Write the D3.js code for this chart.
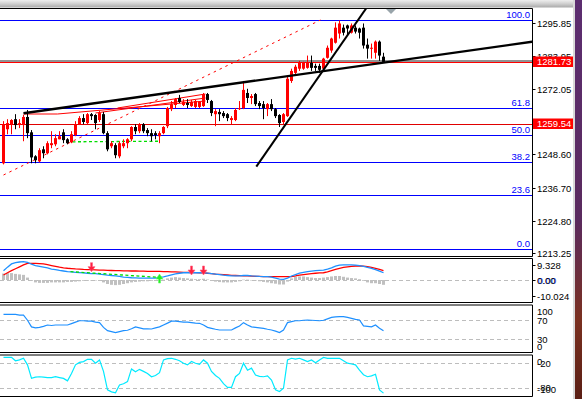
<!DOCTYPE html>
<html><head><meta charset="utf-8">
<script src="https://cdn.jsdelivr.net/npm/d3@7"></script>
<style>body{margin:0;background:#fff;overflow:hidden}svg{display:block}</style>
</head><body><svg id="c" width="582" height="399"></svg>
<script>
// ---------- data ----------
const opens=[1245.4,1257.6,1259.4,1261.2,1259.1,1259.1,1262.0,1256.5,1247.9,1246.1,
1250.4,1249.0,1251.9,1252.2,1254.0,1256.5,1254.0,1252.9,1255.5,1259.4,
1261.6,1259.8,1263.0,1262.7,1260.9,1263.0,1256.2,1251.5,1251.9,1247.9,
1251.5,1252.6,1254.0,1258.4,1256.9,1259.4,1257.3,1256.2,1256.2,1255.1,
1256.2,1258.7,1264.8,1266.3,1268.8,1266.3,1267.0,1265.9,1265.6,1265.6,
1265.9,1270.2,1267.7,1263.0,1263.8,1263.4,1263.0,1260.9,1260.9,1264.8,
1265.2,1270.6,1268.8,1270.2,1267.0,1266.6,1264.8,1266.6,1264.8,1262.7,
1260.2,1262.3,1274.9,1277.8,1279.3,1279.3,1279.6,1281.4,1280.3,1280.3,
1279.3,1283.2,1285.8,1288.6,1291.9,1294.0,1294.8,1292.2,1294.0,1293.7,
1294.0,1287.9,1286.5,1285.0,1289.0,1283.6];
const highs=[1260.5,1261.2,1261.2,1263.0,1261.2,1262.7,1264.5,1257.3,1248.3,1250.8,
1251.5,1253.3,1256.9,1255.8,1256.9,1257.6,1254.4,1256.9,1260.5,1262.3,
1263.0,1263.4,1263.4,1263.0,1264.1,1263.8,1256.9,1253.3,1252.6,1253.3,
1254.0,1254.4,1258.7,1259.4,1259.8,1259.8,1258.0,1257.6,1256.9,1256.9,
1258.7,1265.6,1267.7,1268.8,1269.9,1268.4,1268.4,1268.1,1268.1,1267.7,
1270.6,1270.6,1268.1,1264.8,1264.8,1264.1,1263.4,1262.3,1265.2,1267.7,
1274.9,1272.1,1270.2,1270.6,1267.7,1267.7,1267.0,1268.4,1265.2,1263.0,
1263.4,1276.4,1279.3,1280.7,1282.1,1281.8,1284.0,1284.0,1281.1,1281.1,
1283.2,1287.6,1290.4,1295.9,1296.6,1295.1,1295.1,1295.5,1294.8,1294.0,
1295.5,1290.1,1288.3,1289.4,1289.4,1285.0];
const lows=[1245.0,1255.8,1255.8,1257.6,1258.0,1253.3,1254.4,1245.4,1245.4,1245.7,
1247.2,1248.6,1250.8,1251.5,1254.0,1252.6,1252.2,1252.6,1255.1,1259.1,
1259.4,1259.4,1260.9,1257.6,1260.2,1255.8,1249.7,1250.8,1247.2,1247.2,
1250.8,1250.8,1253.3,1255.8,1256.2,1256.2,1255.1,1253.3,1254.0,1252.6,
1255.8,1258.0,1264.1,1265.2,1267.0,1265.9,1265.2,1265.6,1265.2,1265.2,
1265.6,1267.0,1262.3,1258.7,1260.5,1261.6,1260.5,1259.4,1260.5,1264.5,
1264.8,1267.0,1266.6,1265.9,1264.8,1261.2,1262.3,1264.1,1261.6,1258.4,
1259.4,1262.0,1274.2,1277.1,1278.5,1278.9,1279.3,1278.5,1278.5,1277.8,
1278.5,1282.9,1285.0,1288.3,1290.1,1291.2,1291.2,1291.9,1291.9,1290.1,
1286.5,1282.9,1282.9,1282.9,1282.1,1281.4];
const closes=[1259.4,1259.8,1260.9,1259.1,1259.8,1262.0,1256.2,1247.5,1246.5,1250.1,
1249.0,1252.6,1252.6,1254.4,1255.1,1253.7,1252.6,1255.8,1259.4,1261.6,
1260.2,1263.0,1262.3,1259.8,1263.4,1256.2,1250.4,1252.6,1248.3,1252.6,
1252.6,1254.0,1258.4,1256.9,1259.4,1256.9,1256.2,1255.1,1255.5,1256.2,
1258.4,1265.2,1266.6,1268.4,1267.4,1267.4,1266.3,1267.4,1267.7,1267.4,
1270.2,1268.1,1263.4,1264.1,1263.0,1262.3,1261.6,1261.6,1264.5,1265.2,
1271.7,1268.8,1269.5,1266.6,1265.9,1265.2,1266.6,1264.8,1262.3,1259.8,
1263.0,1275.7,1278.5,1280.0,1281.4,1281.4,1281.4,1279.6,1279.6,1278.9,
1282.9,1286.8,1290.1,1294.0,1295.5,1292.2,1293.7,1294.8,1292.6,1292.2,
1287.6,1286.5,1286.8,1289.0,1284.0,1281.73];

const priceTicks=[1295.85,1283.95,1272.05,1260.15,1248.60,1236.70,1224.80,1213.25];
const fibHigh=1296.64, fibLow=1214.69;
const fibLevels=[0,23.6,38.2,50.0,61.8,100.0];
const bidPrice=1281.73, markPrice=1259.54, greyLinePrice=1282.1;

// trendlines: [candle index, price]
const blackTrendA=[[5,1263.31],[132.2,1288.97]];
const blackTrendB=[[63.2,1244.18],[90.5,1300.58]];
const redDashTrend=[[0,1241.2],[79.25,1296.75]];
const greenDashTrend=[[17.25,1253.1],[39.25,1253.3]];
const redLine1=[[5,1263.06],[13.5,1263.06],[50.5,1267.72]];
const redLine2=[[28.5,1265.21],[50.5,1270.23]];
const redLine3=[[23,1263.42],[50.5,1268.79]];

// MACD-like panel
const histValues=[4.0,4.3,4.3,3.8,3.5,3.2,1.5,-0.5,-1.5,-1.8,
-1.8,-1.8,-1.5,-1.5,-1.5,-1.5,-1.2,-1.2,-1.0,-0.8,
-0.5,-0.5,-0.3,-0.3,-0.5,-1.5,-2.5,-3.0,-3.2,-3.0,
-2.5,-2.0,-1.5,-1.2,-1.0,-0.8,-0.8,-0.5,-0.5,-0.3,
0.2,1.0,1.5,1.8,1.5,1.2,1.0,0.8,0.5,0.5,
0.8,0.3,-0.5,-1.0,-1.3,-1.5,-1.5,-1.5,-1.2,-0.8,
0.2,0.2,0.0,-0.3,-0.8,-1.2,-1.5,-2.0,-2.3,-2.8,
-2.8,-1.0,1.0,2.0,2.2,2.2,1.8,1.5,1.2,1.2,
1.5,1.8,2.2,2.5,2.5,2.0,1.5,1.2,1.0,0.5,
-0.5,-1.5,-2.0,-2.0,-2.5,-3.0];
const macdBlue=[5.8,8.0,10.0,10.8,11.2,11.4,11.0,9.8,9.0,8.5,
8.0,7.5,6.8,6.5,6.0,5.6,5.2,5.0,4.8,4.6,
4.4,4.2,4.0,3.9,3.7,3.4,3.0,2.8,2.5,2.2,
1.8,1.6,1.4,1.3,1.2,1.1,1.1,1.1,1.2,1.6,
2.0,2.5,3.2,3.8,4.2,4.5,4.6,4.5,4.5,4.5,
4.6,4.3,4.0,3.7,3.4,3.0,2.8,2.5,2.5,2.5,
2.8,2.8,2.5,2.4,2.2,2.1,2.1,1.8,1.2,0.6,
0.4,1.2,2.5,3.4,4.2,4.8,5.2,5.5,5.8,6.0,
6.2,6.8,7.6,8.6,9.3,9.4,9.4,9.4,9.3,9.0,
8.4,7.8,7.3,6.5,5.5,4.5];
const macdRed=[3.1,4.5,5.8,7.0,8.2,9.4,10.4,10.4,10.3,10.2,
10.0,9.5,9.0,8.5,8.0,7.6,7.3,7.1,6.9,6.8,
6.6,6.5,6.4,6.3,6.2,6.1,6.0,5.9,5.8,5.8,
5.7,5.7,5.6,5.6,5.5,5.5,5.4,5.4,5.3,5.3,
5.2,5.2,5.1,5.0,4.9,4.8,4.7,4.6,4.6,4.5,
4.4,4.2,4.0,3.7,3.5,3.3,3.1,2.9,2.8,2.7,
2.6,2.5,2.4,2.3,2.2,2.1,2.1,2.1,2.1,2.1,
2.1,2.1,2.1,2.5,3.0,3.4,3.7,4.0,4.2,4.4,
4.5,5.0,5.8,6.6,7.3,7.8,8.2,8.5,8.7,8.7,
8.6,8.3,7.9,7.3,6.6,5.8];
const macdGreenDash=[[16.75,5.2],[38.5,1.7]];
const downArrows=[[22,5.2],[47,3.1],[50,3.1]];
const upArrows=[[39,3.7]];
const macdTicks=[9.328,0.00,-10.024];

// RSI-like panel
const rsiValues=[82.5,82.5,82.5,82.5,81,81,70,56,54,55,
57,60,59,60,60,60,60,63,66,69,
69,68,68,66,65,55,48,46,44,46,
48,49,52,56,54,52,52,51.6,54,56,
60,64,68,68,67,66,66,65,64,63.6,
60,55,53,51,49.5,49.5,49.5,49.5,54,58,
65,60,56,55,54,53,51,49.5,47,44,
49.5,65,67,69,69,70,70.5,70,69.5,69,
70,73,76,77,77.5,77.5,76,74,72,70.5,
58,57,56,60,53,48];
const rsiLevels=[70,30];
const rsiTicks=[100,70,30,0];

// Williams %R panel
const wprValues=[-5.7,-5.7,-5.7,-14,-12,-8,-24,-57,-54,-53,
-54,-55,-55,-53,-55,-57,-63,-45,-24,-18,
-16,-10.5,-10.5,-20,-12,-40,-85,-90,-92,-73,
-70,-65,-34,-41,-35,-40,-45,-53,-50,-43,
-12,-9,-8,-10.5,-14,-20,-24,-16,-20,-23,
-12,-20,-40,-50,-57,-70,-79,-79,-53,-45,
-20,-37,-32,-49,-52,-53,-51,-61,-85,-89,
-81,-12,-8,-10,-8,-12,-16,-12,-19,-12,
-6,-8,-8,-8,-8,-14,-20,-22,-24,-37,
-48,-53,-51,-47,-85,-93];
const wprLevels=[-20,-80];
const wprTicks=[0,-20,-80,-100];

// ---------- layout ----------
const svg=d3.select("#c");
const AX=532; // right axis x
const FONT="'Liberation Sans', Arial, sans-serif";
const defs=svg.append("defs");
const g1=defs.append("linearGradient").attr("id","topg").attr("x1",0).attr("x2",0).attr("y1",0).attr("y2",1);
g1.append("stop").attr("offset","0").attr("stop-color","#eeeeee");
g1.append("stop").attr("offset","0.5").attr("stop-color","#cfcfcf");
g1.append("stop").attr("offset","1").attr("stop-color","#a9a9a9");
const g2=defs.append("linearGradient").attr("id","sideg").attr("x1",0).attr("x2",0).attr("y1",0).attr("y2",1);
g2.append("stop").attr("offset","0").attr("stop-color","#5c2d70");
g2.append("stop").attr("offset","0.55").attr("stop-color","#5a2a5e");
g2.append("stop").attr("offset","0.8").attr("stop-color","#7a3020");
g2.append("stop").attr("offset","1").attr("stop-color","#5a1e14");
defs.append("clipPath").attr("id","clipMain").append("rect").attr("x",0).attr("y",8.5).attr("width",AX).attr("height",247.5);
defs.append("clipPath").attr("id","clipP2").append("rect").attr("x",0).attr("y",259).attr("width",AX).attr("height",43);

svg.append("rect").attr("x",0).attr("y",0).attr("width",582).attr("height",399).attr("fill","#fff");
svg.append("rect").attr("x",0).attr("y",0).attr("width",575).attr("height",7.5).attr("fill","url(#topg)");
svg.append("rect").attr("x",575).attr("y",0).attr("width",7).attr("height",399).attr("fill","url(#sideg)");
svg.append("rect").attr("x",573).attr("y",0).attr("width",2).attr("height",399).attr("fill","#d8d8d8");

const x=d3.scaleLinear().domain([0,132.5]).range([3.5,533.5]);
const y=d3.scaleLinear().domain([1213.25,1295.85]).range([253,22.5]);

// panel frames
const panels=[[8.5,256.5],[258.5,302.5],[305,352.5],[355,396.5]];
panels.forEach(([t,b])=>{
  svg.append("line").attr("x1",0).attr("x2",AX+0.5).attr("y1",t).attr("y2",t).attr("stroke","#000");
  svg.append("line").attr("x1",0).attr("x2",AX+0.5).attr("y1",b).attr("y2",b).attr("stroke","#000");
  svg.append("line").attr("x1",AX+0.5).attr("x2",AX+0.5).attr("y1",t).attr("y2",b).attr("stroke","#000");
});

// ---------- main chart ----------
const main=svg.append("g").attr("clip-path","url(#clipMain)");
const fy=l=>y(fibLow+(fibHigh-fibLow)*l/100);
main.selectAll("line.fib").data(fibLevels).join("line")
  .attr("x1",0).attr("x2",AX).attr("y1",d=>Math.round(fy(d))+0.5).attr("y2",d=>Math.round(fy(d))+0.5)
  .attr("stroke","#0000ff").attr("stroke-width",1);
svg.selectAll("text.fib").data(fibLevels).join("text")
  .attr("x",530).attr("y",d=>Math.round(fy(d))-2).attr("text-anchor","end")
  .attr("font-family",FONT).attr("font-size",9.5).attr("fill","#0000ff")
  .text(d=>d.toFixed(1));
// horizontal price lines
main.append("line").attr("x1",0).attr("x2",AX).attr("y1",Math.round(y(bidPrice))+0.5).attr("y2",Math.round(y(bidPrice))+0.5)
  .attr("stroke","#ff0000");
main.append("line").attr("x1",0).attr("x2",AX).attr("y1",Math.round(y(greyLinePrice))).attr("y2",Math.round(y(greyLinePrice)))
  .attr("stroke","#6e6e6e").attr("stroke-width",1.6);
main.append("line").attr("x1",0).attr("x2",AX).attr("y1",Math.round(y(markPrice))+0.5).attr("y2",Math.round(y(markPrice))+0.5)
  .attr("stroke","#e00000");

const line=d3.line().x(d=>x(d[0])).y(d=>y(d[1]));
const extend=(pts,toI)=>{const [a,b]=pts;const s=(b[1]-a[1])/(b[0]-a[0]);return [a,[toI,a[1]+s*(toI-a[0])]];};
main.append("path").attr("d",line(redDashTrend)).attr("stroke","#ff0000").attr("fill","none").attr("stroke-dasharray","2.5,4");
main.append("path").attr("d",line(redLine1)).attr("stroke","#ff0000").attr("fill","none").attr("stroke-width",1);
main.append("path").attr("d",line(redLine2)).attr("stroke","#ff0000").attr("fill","none").attr("stroke-width",1);
main.append("path").attr("d",line(redLine3)).attr("stroke","#ff0000").attr("fill","none").attr("stroke-width",1);
main.append("path").attr("d",line(greenDashTrend)).attr("stroke","#00dd00").attr("fill","none").attr("stroke-width",1.3).attr("stroke-dasharray","3,2.5");

// candles
const idx=d3.range(opens.length);
const cg=main.append("g");
cg.selectAll("line.w").data(idx).join("line")
  .attr("x1",i=>x(i)).attr("x2",i=>x(i)).attr("y1",i=>y(highs[i])).attr("y2",i=>y(lows[i]))
  .attr("stroke",i=>closes[i]>=opens[i]?"#ff0000":"#000").attr("stroke-width",1);
cg.selectAll("rect.b").data(idx).join("rect")
  .attr("x",i=>x(i)-1.5).attr("width",3)
  .attr("y",i=>y(Math.max(opens[i],closes[i])))
  .attr("height",i=>Math.max(1,Math.abs(y(opens[i])-y(closes[i]))))
  .attr("fill",i=>closes[i]>=opens[i]?"#ff0000":"#000");

// black trendlines
main.append("path").attr("d",line(extend(blackTrendA,133))).attr("stroke","#000").attr("stroke-width",2.4).attr("fill","none");
main.append("path").attr("d",line(extend(blackTrendB,93))).attr("stroke","#000").attr("stroke-width",2).attr("fill","none");

// chart shift marker
svg.append("path").attr("d","M386,9L396,9L391,14Z").attr("fill","#98a4aa");

// right axis for price
const tickG=svg.append("g");
priceTicks.forEach(v=>{
  const yy=Math.round(y(v))+0.5;
  tickG.append("line").attr("x1",AX).attr("x2",AX+3.5).attr("y1",yy).attr("y2",yy).attr("stroke","#000");
  tickG.append("text").attr("x",537).attr("y",yy).attr("dy","0.35em").attr("font-family",FONT).attr("font-size",9.5)
    .attr("fill","#000").text(v.toFixed(2));
});
[bidPrice,markPrice].forEach(v=>{
  const yy=Math.round(y(v))-0.5;
  svg.append("rect").attr("x",AX+1).attr("y",yy-5).attr("width",40).attr("height",10.5).attr("fill","#ff0000");
  svg.append("text").attr("x",537).attr("y",yy).attr("dy","0.37em").attr("font-family",FONT).attr("font-size",9.5)
    .attr("fill","#fff").text(v.toFixed(2));
});

// ---------- panel 2 ----------
const y2=d3.scaleLinear().domain([-10.024,9.328]).range([296.1,265]);
const p2=svg.append("g").attr("clip-path","url(#clipP2)");
p2.append("line").attr("x1",0).attr("x2",AX).attr("y1",Math.round(y2(0))+0.5).attr("y2",Math.round(y2(0))+0.5)
  .attr("stroke","#bdbdbd").attr("stroke-dasharray","4,3");
p2.selectAll("rect.h").data(idx).join("rect")
  .attr("x",i=>x(i)-1.5).attr("width",3)
  .attr("y",i=>Math.min(y2(histValues[i]),y2(0)))
  .attr("height",i=>Math.max(0.5,Math.abs(y2(histValues[i])-y2(0))))
  .attr("fill","#c0c0c0");
const l2=d3.line().x((d,i)=>x(i)).y(d=>y2(d));
p2.append("path").attr("d",l2(macdRed)).attr("stroke","#ff0000").attr("fill","none").attr("stroke-width",1.3);
p2.append("path").attr("d",l2(macdBlue)).attr("stroke","#1e90ff").attr("fill","none").attr("stroke-width",1.3);
p2.append("path").attr("d",d3.line().x(d=>x(d[0])).y(d=>y2(d[1]))(macdGreenDash))
  .attr("stroke","#00dd00").attr("fill","none").attr("stroke-width",1.3).attr("stroke-dasharray","3,2.5");
downArrows.forEach(([i,v])=>{
  const cx=x(i), ty=y2(v);
  p2.append("path").attr("d",`M${cx-1},${ty-9}L${cx+1},${ty-9}L${cx+1},${ty-5}L${cx+3.5},${ty-5}L${cx},${ty}L${cx-3.5},${ty-5}L${cx-1},${ty-5}Z`)
    .attr("fill","#ff2040").attr("stroke","#ff6080").attr("stroke-width",0.6);
});
upArrows.forEach(([i,v])=>{
  const cx=x(i), ty=y2(v);
  p2.append("path").attr("d",`M${cx},${ty}L${cx+3.5},${ty+5}L${cx+1},${ty+5}L${cx+1},${ty+9}L${cx-1},${ty+9}L${cx-1},${ty+5}L${cx-3.5},${ty+5}Z`)
    .attr("fill","#22ee22").attr("stroke","#66ff66").attr("stroke-width",0.6);
});
macdTicks.forEach(v=>{
  const yy=Math.round(y2(v))+0.5;
  svg.append("line").attr("x1",AX).attr("x2",AX+3.5).attr("y1",yy).attr("y2",yy).attr("stroke","#000");
  const lbl=v===0?"0.00":(v<0?"-"+Math.abs(v).toFixed(3):v.toFixed(3));
  if(v===0){
    svg.append("text").attr("x",537.7).attr("y",yy).attr("dy","0.35em").attr("font-family",FONT).attr("font-size",9.5).attr("fill","#3050ff").text(lbl);
  }
  svg.append("text").attr("x",537).attr("y",yy).attr("dy","0.35em").attr("font-family",FONT).attr("font-size",9.5).attr("fill","#000").text(lbl);
});

// ---------- panel 3 ----------
const y3=d3.scaleLinear().domain([0,100]).range([353.5,306]);
const p3=svg.append("g");
rsiLevels.forEach(v=>p3.append("line").attr("x1",0).attr("x2",AX).attr("y1",Math.round(y3(v))+0.5).attr("y2",Math.round(y3(v))+0.5)
  .attr("stroke","#bdbdbd").attr("stroke-dasharray","4,3"));
p3.append("path").attr("d",d3.line().x((d,i)=>x(i)).y(d=>y3(d))(rsiValues)).attr("stroke","#1e90ff").attr("fill","none").attr("stroke-width",1.2);
rsiTicks.forEach(v=>{
  const yy=Math.min(Math.max(y3(v),312),347);
  svg.append("text").attr("x",537).attr("y",yy).attr("dy","0.35em").attr("font-family",FONT).attr("font-size",9.5).attr("fill","#000").text(v);
});

// ---------- panel 4 ----------
const y4=d3.scaleLinear().domain([-100,0]).range([396,355]);
const p4=svg.append("g");
wprLevels.forEach(v=>p4.append("line").attr("x1",0).attr("x2",AX).attr("y1",Math.round(y4(v))+0.5).attr("y2",Math.round(y4(v))+0.5)
  .attr("stroke","#bdbdbd").attr("stroke-dasharray","4,3"));
p4.append("path").attr("d",d3.line().x((d,i)=>x(i)).y(d=>y4(d))(wprValues)).attr("stroke","#00eaff").attr("fill","none").attr("stroke-width",1.2);
wprTicks.forEach(v=>{
  const yy=Math.min(Math.max(y4(v),361.5),390);
  svg.append("text").attr("x",537).attr("y",yy).attr("dy","0.35em").attr("font-family",FONT).attr("font-size",9.5).attr("fill","#000").text(v);
});
</script></body></html>
